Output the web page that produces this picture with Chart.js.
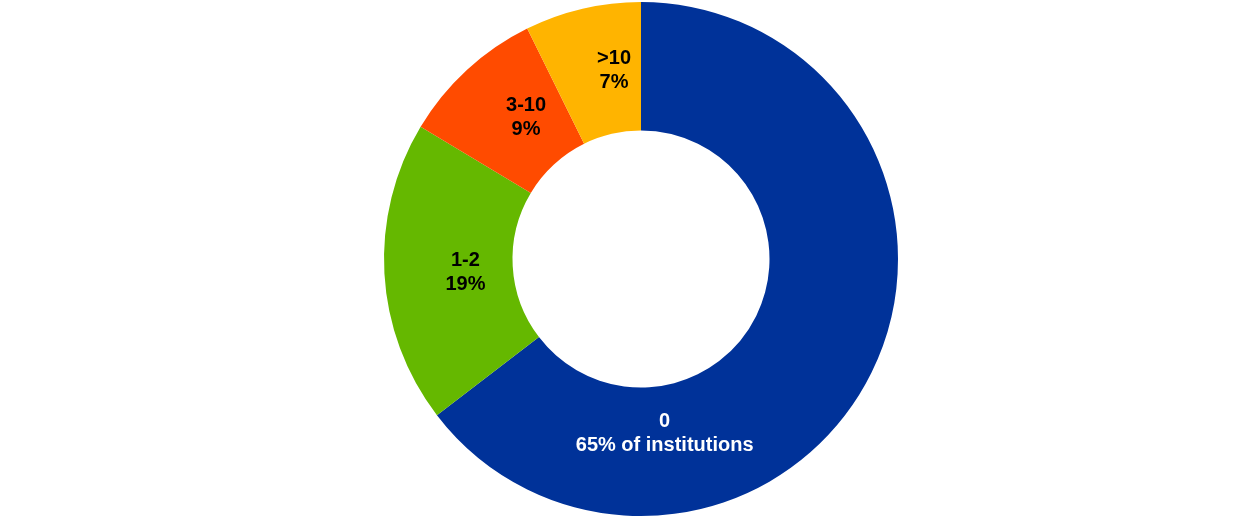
<!DOCTYPE html>
<html lang="en">
<head>
  <meta charset="UTF-8">
  <title>Institutions donut</title>
  <script src="https://cdn.jsdelivr.net/npm/chart.js"></script>
  <style>
    html, body { margin: 0; padding: 0; background: #fff; }
    .wrap { width: 1240px; height: 518px; position: relative; }
  </style>
</head>
<body>
<div class="wrap"><canvas id="donut"></canvas></div>
<script>
  // data (shares; labels show rounded values)
  const categories = ['0', '1-2', '3-10', '>10'];
  const shares     = [64.6, 19.0, 9.1, 7.3];
  const labelText  = ['65% of institutions', '19%', '9%', '7%'];

  // styling
  const colours    = ['#003299', '#65B800', '#FF4B00', '#FFB400'];
  const textColour = ['#ffffff', '#000000', '#000000', '#000000'];
  // label placement: angle shift from slice middle (deg) and radius as share of outer radius
  const labelShift = [56, -1, 3.6, 5];
  const labelRad   = [0.685, 0.685, 0.71, 0.74];

  // simple label plugin (no datalabels available offline)
  const sliceLabels = {
    id: 'sliceLabels',
    afterDatasetsDraw(chart) {
      const ctx = chart.ctx;
      const meta = chart.getDatasetMeta(0);
      ctx.save();
      ctx.font = 'bold 20px "Liberation Sans", Arial, sans-serif';
      ctx.textAlign = 'center';
      ctx.textBaseline = 'middle';
      meta.data.forEach((arc, i) => {
        const mid = (arc.startAngle + arc.endAngle) / 2 + labelShift[i] * Math.PI / 180;
        const r = arc.outerRadius * labelRad[i];
        const x = arc.x + Math.cos(mid) * r;
        const y = arc.y + Math.sin(mid) * r;
        ctx.fillStyle = textColour[i];
        ctx.fillText(categories[i], x, y - 12);
        ctx.fillText(labelText[i], x, y + 12);
      });
      ctx.restore();
    }
  };

  new Chart(document.getElementById('donut'), {
    type: 'doughnut',
    data: {
      labels: categories,
      datasets: [{
        data: shares,
        backgroundColor: colours,
        borderWidth: 0
      }]
    },
    options: {
      responsive: true,
      maintainAspectRatio: false,
      animation: false,
      cutout: '50%',
      layout: { padding: { left: 42, top: 2, bottom: 2 } },
      plugins: {
        legend: { display: false },
        tooltip: { enabled: false }
      }
    },
    plugins: [sliceLabels]
  });
</script>
</body>
</html>
